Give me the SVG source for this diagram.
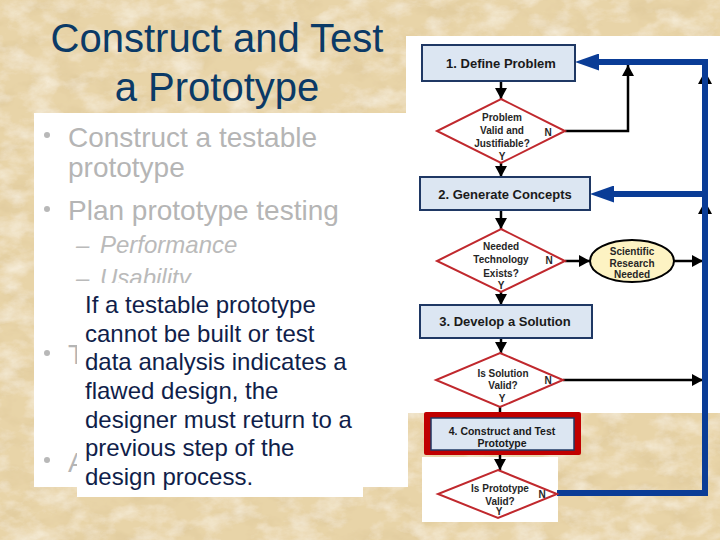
<svg xmlns="http://www.w3.org/2000/svg" width="720" height="540" viewBox="0 0 720 540">
<defs>
  <filter id="paper" x="0" y="0" width="720" height="540" filterUnits="userSpaceOnUse">
    <feFlood flood-color="#e8d4a8" result="base"/>
    <feTurbulence type="fractalNoise" baseFrequency="0.035 0.055" numOctaves="5" seed="11" result="t"/>
    <feColorMatrix in="t" type="matrix" values="0 0 0 0 0.68  0 0 0 0 0.53  0 0 0 0 0.28  -1.0 0 0 0 0.56" result="dk"/>
    <feColorMatrix in="t" type="matrix" values="0 0 0 0 1  0 0 0 0 0.97  0 0 0 0 0.9  0 1.2 0 0 -0.52" result="lt"/>
    <feMerge><feMergeNode in="base"/><feMergeNode in="dk"/><feMergeNode in="lt"/></feMerge>
  </filter>
  <clipPath id="cutU"><rect x="0" y="0" width="720" height="283"/></clipPath>
  <marker id="ab" markerUnits="userSpaceOnUse" viewBox="0 0 11 12" markerWidth="11" markerHeight="12" refX="11" refY="6" orient="auto">
    <path d="M0,0 L11,6 L0,12 z" fill="#000"/>
  </marker>
  <marker id="au" markerUnits="userSpaceOnUse" viewBox="0 0 24 17" markerWidth="24" markerHeight="17" refX="7" refY="8.5" orient="auto">
    <path d="M0,0 L24,8.5 L0,17 z" fill="#0a3c96"/>
  </marker>
  <style>
    .ttl{font-family:"Liberation Sans",Arial,sans-serif;font-size:40px;fill:#0b3a66;text-anchor:middle}
    .bt{font-family:"Liberation Sans",Arial,sans-serif;font-size:28px;fill:#b5b5b5}
    .st{font-family:"Liberation Sans",Arial,sans-serif;font-size:24px;font-style:italic;fill:#bababa}
    .ov{font-family:"Liberation Sans",Arial,sans-serif;font-size:24px;fill:#101e4a}
    .bul{fill:#b8b8b8}
    .box{fill:#dce6f2;stroke:#1f3864;stroke-width:2}
    .bl{font-family:"Liberation Sans",Arial,sans-serif;font-size:13px;font-weight:bold;fill:#1a1a1a;text-anchor:middle}
    .dia{fill:#fff;stroke:#c0282d;stroke-width:2}
    .dl{font-family:"Liberation Sans",Arial,sans-serif;font-size:10px;font-weight:bold;fill:#262626;text-anchor:middle}
    .k{fill:none;stroke:#000;stroke-width:2.5}
    .blue{fill:none;stroke:#0a3c96;stroke-width:6}
  </style>
</defs>

<rect width="720" height="540" filter="url(#paper)"/>

<!-- white panels -->
<rect x="406" y="36" width="314" height="377" fill="#fff"/>
<rect x="34" y="113" width="374" height="374" fill="#fff"/>
<rect x="422" y="457" width="136" height="65" fill="#fff"/>

<!-- title -->
<g id="title">
  <text class="ttl" x="217" y="52">Construct and Test</text>
  <text class="ttl" x="217" y="101">a Prototype</text>
</g>

<!-- bullet text -->
<g id="bullets">
  <circle class="bul" cx="47" cy="135" r="3"/>
  <text class="bt" x="68" y="147">Construct a testable</text>
  <text class="bt" x="68" y="177">prototype</text>
  <circle class="bul" cx="47" cy="209" r="3"/>
  <text class="bt" x="68" y="220">Plan prototype testing</text>
  <text class="st" x="76" y="253">–</text>
  <text class="st" x="100" y="253">Performance</text>
  <g clip-path="url(#cutU)">
    <text class="st" x="76" y="285.5">–</text>
    <text class="st" x="100" y="285.5">Usability</text>
  </g>
  <circle class="bul" cx="47" cy="353" r="3"/>
  <text class="bt" x="68" y="364">T</text>
  <circle class="bul" cx="47" cy="460" r="3"/>
  <text class="bt" x="68" y="472">A</text>
</g>

<!-- overlay note -->
<g id="note">
  <rect x="77" y="284" width="286" height="213" fill="#fff"/>
  <text class="ov" x="85" y="313">If a testable prototype</text>
  <text class="ov" x="85" y="341.7">cannot be built or test</text>
  <text class="ov" x="85" y="370.3">data analysis indicates a</text>
  <text class="ov" x="85" y="399">flawed design, the</text>
  <text class="ov" x="85" y="427.7">designer must return to a</text>
  <text class="ov" x="85" y="456.3">previous step of the</text>
  <text class="ov" x="85" y="485">design process.</text>
</g>

<!-- connectors -->
<g id="connectors">
  <line class="k" x1="501" y1="81" x2="501" y2="99" marker-end="url(#ab)"/>
  <line class="k" x1="501" y1="163" x2="501" y2="177" marker-end="url(#ab)"/>
  <line class="k" x1="501" y1="210" x2="501" y2="229" marker-end="url(#ab)"/>
  <line class="k" x1="501" y1="292" x2="501" y2="305" marker-end="url(#ab)"/>
  <line class="k" x1="501" y1="338" x2="501" y2="353" marker-end="url(#ab)"/>
  <line class="k" x1="500" y1="407" x2="500" y2="414"/>
  <line class="k" x1="500" y1="455" x2="500" y2="470" marker-end="url(#ab)"/>
  <polyline class="k" points="565,131 628,131 628,65" marker-end="url(#ab)"/>
  <line class="k" x1="565" y1="261" x2="590" y2="261" marker-end="url(#ab)"/>
  <line class="k" x1="674" y1="261" x2="703" y2="261" marker-end="url(#ab)"/>
  <line class="k" x1="563" y1="380" x2="703" y2="380" marker-end="url(#ab)"/>
  <polygon points="705,71 698,84 712,84" fill="#000"/>
  <polygon points="705,201 698,214 712,214" fill="#000"/>
  <path class="blue" d="M557,493 H705 V62 H592" marker-end="url(#au)"/>
  <path class="blue" d="M705,194 H607" marker-end="url(#au)"/>
</g>

<!-- nodes -->
<g id="box1">
  <rect class="box" x="422" y="45" width="153" height="36"/>
  <text class="bl" x="501" y="68">1. Define Problem</text>
</g>
<g id="dec1">
  <polygon class="dia" points="501,99 565,131 501,163 437,131"/>
  <text class="dl" x="502" y="121">Problem</text>
  <text class="dl" x="502" y="134">Valid and</text>
  <text class="dl" x="502" y="147">Justifiable?</text>
  <text class="dl" x="502" y="160">Y</text>
  <text class="dl" x="548" y="136">N</text>
</g>
<g id="box2">
  <rect class="box" x="420" y="177" width="170" height="33"/>
  <text class="bl" x="505" y="199">2. Generate Concepts</text>
</g>
<g id="dec2">
  <polygon class="dia" points="501,229 565,261 501,292 437,261"/>
  <text class="dl" x="501" y="250">Needed</text>
  <text class="dl" x="501" y="263">Technology</text>
  <text class="dl" x="501" y="277">Exists?</text>
  <text class="dl" x="501" y="289">Y</text>
  <text class="dl" x="549" y="264">N</text>
</g>
<g id="research">
  <ellipse cx="632" cy="261" rx="42" ry="21" fill="#fdf3c3" stroke="#000" stroke-width="2"/>
  <text class="dl" x="632" y="255">Scientific</text>
  <text class="dl" x="632" y="267">Research</text>
  <text class="dl" x="632" y="278">Needed</text>
</g>
<g id="box3">
  <rect class="box" x="420" y="305" width="172" height="33"/>
  <text class="bl" x="505" y="326">3. Develop a Solution</text>
</g>
<g id="dec3">
  <polygon class="dia" points="500,353 563,380 500,407 436,380"/>
  <text class="dl" x="503" y="377">Is Solution</text>
  <text class="dl" x="503" y="389">Valid?</text>
  <text class="dl" x="502" y="402">Y</text>
  <text class="dl" x="548" y="384">N</text>
</g>
<g id="box4">
  <rect x="424" y="412" width="157" height="43" rx="2" fill="#c00000"/>
  <rect x="431" y="418" width="143" height="32" fill="#dce6f2" stroke="#1f3864" stroke-width="1.5"/>
  <text class="bl" x="502" y="435" style="font-size:10.5px">4. Construct and Test</text>
  <text class="bl" x="502" y="447" style="font-size:10.5px">Prototype</text>
</g>
<g id="dec4">
  <polygon class="dia" points="498,470 557,494 498,518 438,494"/>
  <text class="dl" x="500" y="492">Is Prototype</text>
  <text class="dl" x="500" y="505">Valid?</text>
  <text class="dl" x="499" y="515">Y</text>
  <text class="dl" x="542" y="498">N</text>
</g>
</svg>
